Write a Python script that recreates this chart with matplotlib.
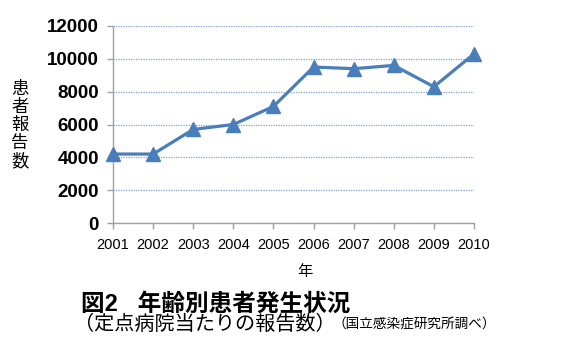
import matplotlib
matplotlib.use("Agg")
import matplotlib.pyplot as plt

plt.rcParams['font.family'] = ['Liberation Sans', 'Noto Sans CJK JP', 'DejaVu Sans']

# データ
years = ['2001', '2002', '2003', '2004', '2005', '2006', '2007', '2008', '2009', '2010']
reports = [4200, 4200, 5700, 6000, 7100, 9500, 9400, 9600, 8300, 10300]
yticks = [0, 2000, 4000, 6000, 8000, 10000, 12000]
ylabel = '患者報告数'

fig = plt.figure(figsize=(5.64, 3.56), dpi=100)
ax = fig.add_axes([113 / 564, 1 - 223 / 356, 361 / 564, 197 / 356])

x = list(range(len(years)))
ax.plot(x, reports, color='#4a7ebb', linewidth=2.3, marker='^',
        markersize=10, clip_on=False, zorder=3)

ax.set_xlim(0, len(years) - 1)
ax.set_ylim(0, 12000)
ax.set_xticks(x)
ax.set_xticklabels(years, fontsize=10.5)
ax.set_yticks(yticks)
ax.set_yticklabels([str(v) for v in yticks], fontsize=13.5, fontweight='bold')

# グリッド線（点線）
ax.yaxis.grid(True, color='#7d9fd6', linestyle=(0, (1, 1)), linewidth=0.9)
ax.set_axisbelow(True)

for s in ['top', 'right']:
    ax.spines[s].set_visible(False)
for s in ['left', 'bottom']:
    ax.spines[s].set_color('#a0a0a0')
    ax.spines[s].set_linewidth(1.0)
ax.tick_params(axis='both', color='#a0a0a0', length=4, width=1.0)
ax.tick_params(axis='y', pad=6)
ax.tick_params(axis='x', pad=7)

# 軸ラベル
fig.text(305 / 564, 1 - 272 / 356, '年', fontsize=11, ha='center', va='center')
for i, ch in enumerate(ylabel):
    fig.text(20 / 564, 1 - (89 + i * 18) / 356, ch, fontsize=12.5,
             ha='center', va='center')

# タイトル
fig.text(81 / 564, 1 - 304 / 356, '図2   年齢別患者発生状況', fontsize=17,
         fontweight='bold', ha='left', va='center')
fig.text(74 / 564, 1 - 324 / 356, '（定点病院当たりの報告数）', fontsize=14.5,
         ha='left', va='center')
fig.text(333 / 564, 1 - 325 / 356, '（国立感染症研究所調べ）', fontsize=9.8,
         ha='left', va='center')

fig.savefig('out.png', dpi=100)
